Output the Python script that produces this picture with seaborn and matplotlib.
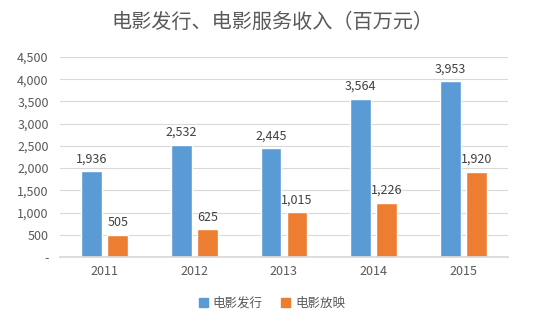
import matplotlib
matplotlib.use("Agg")
import matplotlib.pyplot as plt
import seaborn as sns
import pandas as pd
from matplotlib.ticker import FuncFormatter
from matplotlib.patches import Patch

years = ["2011", "2012", "2013", "2014", "2015"]
distribution = [1936, 2532, 2445, 3564, 3953]
screening = [505, 625, 1015, 1226, 1920]
series_names = ["电影发行", "电影放映"]
title = "电影发行、电影服务收入（百万元）"

sns.set_theme(style="white")
plt.rcParams['font.family'] = ['Noto Sans CJK SC', 'DejaVu Sans']

df = pd.DataFrame({
    "year": years * 2,
    "value": distribution + screening,
    "series": [series_names[0]] * len(years) + [series_names[1]] * len(years),
})

fig = plt.figure(figsize=(5.44, 3.28), dpi=100)
ax = fig.add_axes([0.110, 0.2165, 0.824, 0.6095])

sns.barplot(data=df, x="year", y="value", hue="series",
            palette=["#5B9BD5", "#ED7D31"], width=0.58, gap=0.2,
            ax=ax, legend=False, saturation=1)

ax.set_ylim(0, 4500)
ax.set_yticks(range(0, 4501, 500))
ax.yaxis.set_major_formatter(FuncFormatter(lambda v, p: "-" if v == 0 else f"{int(v):,}"))
ax.grid(axis="y", color="#D9D9D9", linewidth=0.8)
ax.set_axisbelow(True)
for s in ["top", "right", "left"]:
    ax.spines[s].set_visible(False)
ax.spines["bottom"].set_color("#D9D9D9")
ax.tick_params(axis="both", length=0, labelsize=9, colors="#595959")
ax.tick_params(axis="y", pad=8)
ax.tick_params(axis="x", pad=6)
ax.set_xlabel("")
ax.set_ylabel("")

for cont in ax.containers:
    ax.bar_label(cont, labels=[f"{int(v):,}" for v in cont.datavalues],
                 padding=4, fontsize=9, color="#404040")

fig.suptitle(title, x=0.5, y=0.965, fontsize=14.5, color="#595959", fontweight="light")

handles = [Patch(color="#5B9BD5"), Patch(color="#ED7D31")]
fig.legend(handles, series_names, loc="center", bbox_to_anchor=(0.5, 0.075),
           ncol=2, frameon=False, fontsize=9, handlelength=0.7, handleheight=0.7,
           columnspacing=1.5, handletextpad=0.4, labelcolor="#595959")

fig.savefig("out.png", dpi=100, facecolor="white")
